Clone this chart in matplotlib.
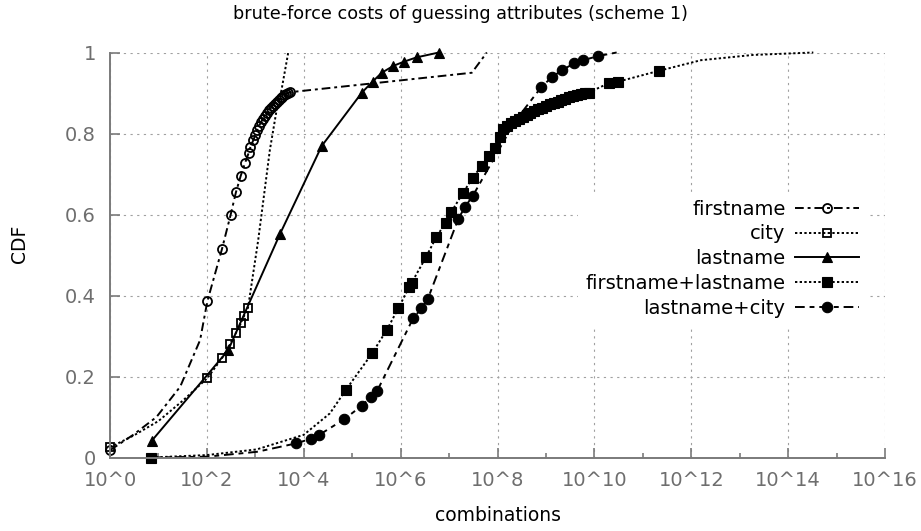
import matplotlib
matplotlib.use("Agg")
import matplotlib.pyplot as plt
from matplotlib.lines import Line2D
from matplotlib.ticker import FixedLocator, FixedFormatter, NullFormatter
import numpy as np

# data: log10(combinations) and CDF
fn_exp = [0.0, 0.48, 0.96, 1.45, 1.86, 2.01, 2.31, 2.49, 2.60, 2.70, 2.79, 2.86, 2.90,
          2.96, 3.00, 3.04, 3.08, 3.12, 3.16, 3.20, 3.24, 3.28, 3.32, 3.36, 3.40,
          3.44, 3.48, 3.52, 3.56, 3.60, 3.64, 3.68, 3.72, 7.47, 7.78]
fn_cdf = [0.018, 0.056, 0.10, 0.175, 0.29, 0.386, 0.514, 0.599, 0.655, 0.696, 0.728, 0.751, 0.767,
          0.784, 0.796, 0.808, 0.819, 0.829, 0.836, 0.843, 0.850, 0.857, 0.863, 0.869, 0.874,
          0.879, 0.883, 0.887, 0.891, 0.894, 0.897, 0.900, 0.902, 0.950, 1.0]
fn_unmarked = [1, 2, 3, 4, 33, 34]

city_exp = [0.0, 0.5, 1.0, 1.5, 2.01, 2.31, 2.48, 2.60, 2.70, 2.77, 2.85, 3.06, 3.30, 3.44, 3.54, 3.68]
city_cdf = [0.025, 0.055, 0.09, 0.14, 0.196, 0.245, 0.280, 0.308, 0.331, 0.350, 0.370,
            0.537, 0.759, 0.858, 0.907, 1.0]
city_unmarked = [1, 2, 3, 11, 12, 13, 14, 15]

ln_exp = [0.86, 2.44, 3.51, 4.37, 5.20, 5.42, 5.61, 5.85, 6.06, 6.33, 6.79]
ln_cdf = [0.041, 0.265, 0.552, 0.769, 0.901, 0.928, 0.950, 0.967, 0.977, 0.988, 1.0]
ln_unmarked = []

fl_exp = [0.85, 2.0, 3.03, 4.0, 4.54, 4.87, 5.41, 5.72, 5.95, 6.18, 6.23, 6.52, 6.74, 6.93,
          7.04, 7.28, 7.49, 7.67, 7.83, 7.95,
          8.05, 8.12, 8.20, 8.28, 8.36, 8.44, 8.52, 8.60, 8.68, 8.76, 8.84, 8.92,
          9.00, 9.08, 9.16, 9.24, 9.32, 9.40, 9.48, 9.56, 9.64, 9.72, 9.80, 9.88,
          10.31, 10.49, 11.34, 12.2, 13.28, 14.52]
fl_cdf = [0.0, 0.006, 0.02, 0.056, 0.109, 0.167, 0.257, 0.316, 0.368, 0.422, 0.432, 0.494, 0.545, 0.580,
          0.605, 0.652, 0.691, 0.720, 0.744, 0.765,
          0.792, 0.810, 0.818, 0.826, 0.831, 0.836, 0.841, 0.846, 0.851, 0.856, 0.860, 0.864,
          0.868, 0.872, 0.875, 0.879, 0.883, 0.886, 0.889, 0.892, 0.895, 0.897, 0.899, 0.901,
          0.925, 0.928, 0.955, 0.981, 0.994, 1.0]
fl_unmarked = [1, 2, 3, 4, 47, 48, 49]

lc_exp = [0.85, 2.0, 3.03, 3.85, 4.14, 4.32, 4.83, 5.20, 5.39, 5.51, 6.26, 6.43, 6.56,
          7.19, 7.33, 7.49, 8.36, 8.90, 9.12, 9.34, 9.58, 9.77, 10.07, 10.46]
lc_cdf = [0.0, 0.002, 0.014, 0.035, 0.046, 0.056, 0.094, 0.128, 0.150, 0.163, 0.344, 0.368, 0.391,
          0.589, 0.619, 0.646, 0.83, 0.914, 0.939, 0.957, 0.973, 0.981, 0.991, 1.0]
lc_unmarked = [0, 1, 2, 16, 23]

labels = ["firstname", "city", "lastname", "firstname+lastname", "lastname+city"]
xtick_labels = ["10^0", "10^2", "10^4", "10^6", "10^8", "10^10", "10^12", "10^14", "10^16"]
ytick_labels = ["0", "0.2", "0.4", "0.6", "0.8", "1"]

styles = [
    dict(ls=(0, (4.5, 2, 1.5, 2)), marker="o", ms=6.5, mfc="none", mew=1.3),
    dict(ls=(0, (1.2, 1.2)), marker="s", ms=6, mfc="none", mew=1.3),
    dict(ls="-", marker="^", ms=6.5, mfc="black", mew=0.8),
    dict(ls=(0, (1.2, 1.2)), marker="s", ms=7, mfc="black", mew=0.8),
    dict(ls=(0, (5, 2.5, 2.5, 2.5)), marker="o", ms=7.5, mfc="black", mew=0.8),
]
series = [(fn_exp, fn_cdf, fn_unmarked), (city_exp, city_cdf, city_unmarked),
          (ln_exp, ln_cdf, ln_unmarked), (fl_exp, fl_cdf, fl_unmarked),
          (lc_exp, lc_cdf, lc_unmarked)]

gray = "#6e6e6e"
fig = plt.figure(figsize=(9.21, 5.31), dpi=100)
ax = fig.add_axes([110 / 921, 73.5 / 531, 775 / 921, 405 / 531])

handles = []
for (ex, cdf, skip), st in zip(series, styles):
    x = 10.0 ** np.array(ex)
    marks = [i for i in range(len(ex)) if i not in skip]
    ax.plot(x, cdf, color="black", lw=1.4, markevery=marks, mec="black", clip_on=False, **st)
    handles.append(Line2D([], [], color="black", lw=1.4, mec="black", **st))

ax.set_xscale("log")
ax.set_xlim(1, 1e16)
ax.set_ylim(0, 1)
ax.xaxis.set_major_locator(FixedLocator([10.0 ** k for k in range(0, 17, 2)]))
ax.xaxis.set_major_formatter(FixedFormatter(xtick_labels))
ax.xaxis.set_minor_locator(FixedLocator([10.0 ** k for k in range(1, 16, 2)]))
ax.xaxis.set_minor_formatter(NullFormatter())
ax.yaxis.set_major_locator(FixedLocator([0, 0.2, 0.4, 0.6, 0.8, 1.0]))
ax.yaxis.set_major_formatter(FixedFormatter(ytick_labels))

ax.grid(True, which="major", color="#a0a0a0", ls=(0, (2, 4)), lw=0.8)
ax.set_axisbelow(True)
for s in ["top", "right"]:
    ax.spines[s].set_visible(False)
for s in ["left", "bottom"]:
    ax.spines[s].set_color("#7a7a7a")
    ax.spines[s].set_linewidth(1.4)
ax.tick_params(which="major", direction="in", length=7, width=1.2, color="#7a7a7a",
               labelsize=14, labelcolor=gray, pad=10)
ax.tick_params(which="minor", direction="in", length=3.5, width=1.2, color="#7a7a7a")

ax.set_xlabel("combinations", fontsize=13.5, labelpad=11)
ax.set_ylabel("CDF", fontsize=13.5)
ax.yaxis.set_label_coords(-0.105, 0.527)
fig.text(0.5, 1 - 14 / 531, "brute-force costs of guessing attributes (scheme 1)",
         ha="center", va="center", fontsize=12.7)

leg = ax.legend(handles, labels, loc="upper right", bbox_to_anchor=(0.977, 0.656),
                markerfirst=False, fontsize=14, handlelength=3.3, handletextpad=0.5,
                labelspacing=0.3, borderpad=0.4, borderaxespad=0, frameon=True,
                fancybox=False, edgecolor="none", facecolor="white", framealpha=1)

fig.savefig("out.png", dpi=100)
